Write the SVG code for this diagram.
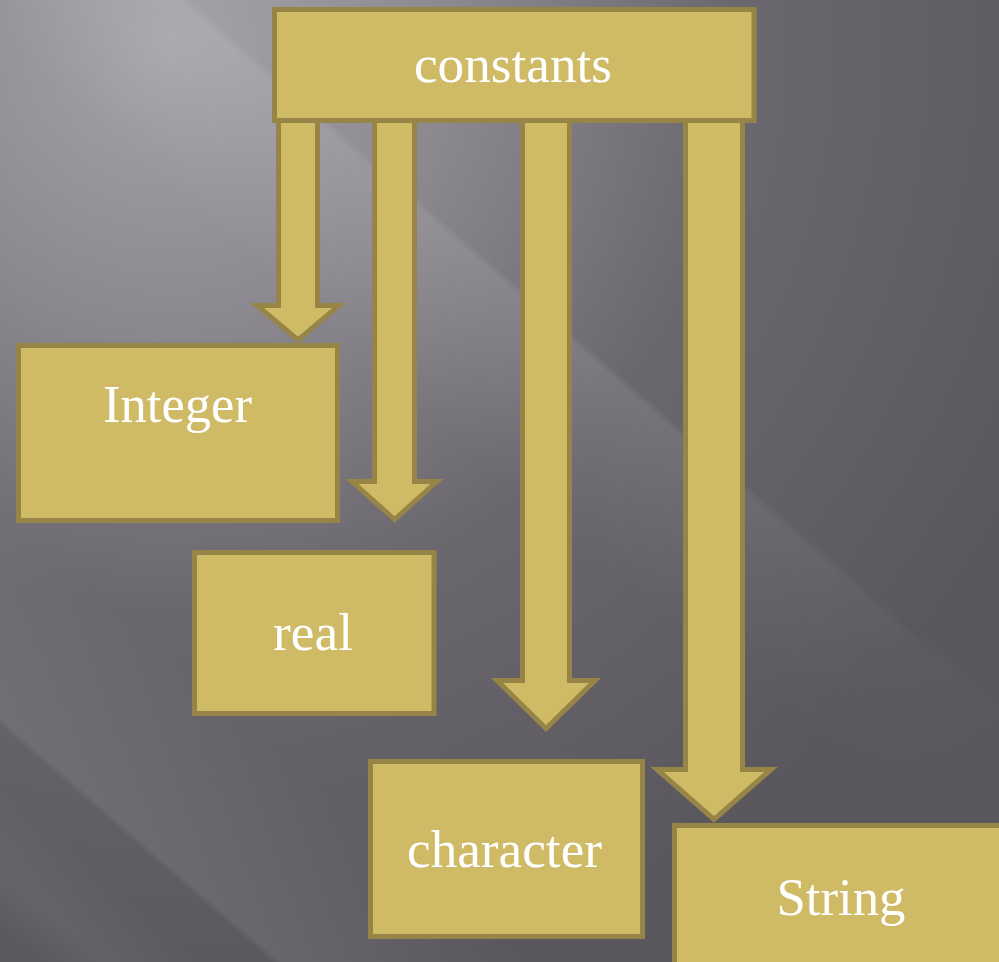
<svg xmlns="http://www.w3.org/2000/svg" width="999" height="962" viewBox="0 0 999 962">
  <defs>
    <radialGradient id="bg" gradientUnits="userSpaceOnUse" cx="170" cy="40" r="950">
      <stop offset="0" stop-color="#a6a3ab"/>
      <stop offset="0.3" stop-color="#8b8890"/>
      <stop offset="0.6" stop-color="#6a676e"/>
      <stop offset="1" stop-color="#5a585e"/>
    </radialGradient>
    <linearGradient id="band1" gradientUnits="userSpaceOnUse" x1="0" y1="-125" x2="0" y2="40">
      <stop offset="0" stop-color="#ffffff" stop-opacity="0"/>
      <stop offset="0.05" stop-color="#ffffff" stop-opacity="0.1"/>
      <stop offset="1" stop-color="#ffffff" stop-opacity="0"/>
    </linearGradient>
    <linearGradient id="band2" gradientUnits="userSpaceOnUse" x1="0" y1="380" x2="0" y2="548">
      <stop offset="0" stop-color="#ffffff" stop-opacity="0"/>
      <stop offset="0.96" stop-color="#ffffff" stop-opacity="0.08"/>
      <stop offset="1" stop-color="#ffffff" stop-opacity="0"/>
    </linearGradient>
    <linearGradient id="band3" gradientUnits="userSpaceOnUse" x1="0" y1="590" x2="0" y2="700">
      <stop offset="0" stop-color="#ffffff" stop-opacity="0"/>
      <stop offset="0.6" stop-color="#ffffff" stop-opacity="0.05"/>
      <stop offset="1" stop-color="#ffffff" stop-opacity="0"/>
    </linearGradient>
    <linearGradient id="fadeAlong" gradientUnits="userSpaceOnUse" x1="300" y1="0" x2="1250" y2="0">
      <stop offset="0" stop-color="#ffffff"/>
      <stop offset="0.45" stop-color="#ffffff"/>
      <stop offset="1" stop-color="#000000"/>
    </linearGradient>
    <mask id="m1" maskUnits="userSpaceOnUse" x="-800" y="-400" width="2600" height="1400">
      <rect x="-800" y="-400" width="2600" height="1400" fill="url(#fadeAlong)"/>
    </mask>
  </defs>
  <style>
    .box { fill: #cfba66; stroke: #978547; stroke-width: 5; stroke-linejoin: miter; }
    .arrow { fill: #cfba66; stroke: #978547; stroke-width: 5; stroke-linejoin: miter; stroke-miterlimit: 10; }
    .label { fill: #ffffff; font-family: "Liberation Serif", "DejaVu Serif", serif; font-size: 52px; text-anchor: middle; }
  </style>

  <g id="background">
    <rect x="0" y="0" width="999" height="962" fill="url(#bg)"/>
    <g transform="rotate(41)">
      <rect x="-800" y="-125" width="2600" height="165" fill="url(#band1)" mask="url(#m1)"/>
      <rect x="-800" y="380" width="2600" height="168" fill="url(#band2)"/>
      <rect x="-800" y="590" width="2600" height="110" fill="url(#band3)"/>
    </g>
  </g>

  <g id="connectors">
    <polygon class="arrow" points="278.5,118 317.5,118 317.5,305.5 339,305.5 298,340 257,305.5 278.5,305.5"/>
    <polygon class="arrow" points="374.5,118 414.5,118 414.5,481.5 437,481.5 394.5,519.5 352,481.5 374.5,481.5"/>
    <polygon class="arrow" points="522.5,118 569.5,118 569.5,680.5 595,680.5 546,728.5 497,680.5 522.5,680.5"/>
    <polygon class="arrow" points="685.5,118 742.5,118 742.5,769.5 771,769.5 714,819.5 657,769.5 685.5,769.5"/>
  </g>

  <g id="node-constants">
    <rect class="box" x="274.5" y="9.5" width="479.5" height="111"/>
    <text class="label" x="513" y="82" textLength="198" lengthAdjust="spacingAndGlyphs">constants</text>
  </g>
  <g id="node-integer">
    <rect class="box" x="18.5" y="345.5" width="319" height="175"/>
    <text class="label" x="177.5" y="422" textLength="149" lengthAdjust="spacingAndGlyphs">Integer</text>
  </g>
  <g id="node-real">
    <rect class="box" x="194.5" y="552.5" width="239.5" height="161"/>
    <text class="label" x="313" y="650" textLength="80" lengthAdjust="spacingAndGlyphs">real</text>
  </g>
  <g id="node-character">
    <rect class="box" x="370.5" y="761.5" width="272" height="175"/>
    <text class="label" x="504.5" y="866.5" textLength="195" lengthAdjust="spacingAndGlyphs">character</text>
  </g>
  <g id="node-string">
    <rect class="box" x="674.5" y="825.5" width="340" height="160"/>
    <text class="label" x="841" y="914.5" textLength="129" lengthAdjust="spacingAndGlyphs">String</text>
  </g>
</svg>
